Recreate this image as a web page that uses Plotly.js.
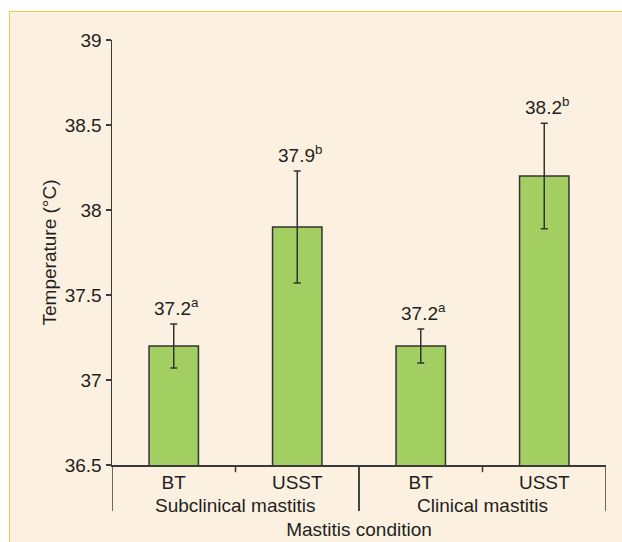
<!DOCTYPE html>
<html>
<head>
<meta charset="utf-8">
<script src="https://cdn.plot.ly/plotly-3.0.1.min.js"></script>
<style>
  html, body { margin: 0; padding: 0; background: #ffffff; width: 622px; height: 542px; overflow: hidden; }
  #frame { position: absolute; left: 9px; top: 11px; width: 613px; height: 531px;
           border-top: 1.5px solid #f6c745; border-left: 1.5px solid #f6c745; box-sizing: border-box; }
  #chart { position: absolute; left: 10px; top: 12px; width: 612px; height: 530px; }
</style>
</head>
<body>
<div id="frame"></div>
<div id="chart"></div>
<script>
// ---- data ----
const treatments = ["BT", "USST", "BT", "USST"];
const groups = ["Subclinical mastitis", "Subclinical mastitis", "Clinical mastitis", "Clinical mastitis"];
const temperatures = [37.2, 37.9, 37.2, 38.2];
const errors = [0.13, 0.33, 0.10, 0.31];
const letters = ["a", "b", "a", "b"];
const yTicks = [36.5, 37, 37.5, 38, 38.5, 39];

const ink = "#231f20";
const fontFam = "Liberation Sans, Arial, sans-serif";
const xs = treatments.map((_, i) => i);

const trace = {
  type: "bar",
  x: xs,
  y: temperatures,
  width: 0.4,
  marker: { color: "#a3cf62", line: { color: "#333333", width: 1.5 } },
  error_y: { type: "data", array: errors, visible: true, color: "#333333", thickness: 1.5, width: 3.5 },
  hoverinfo: "none"
};

// value labels above error bars
const annotations = temperatures.map((v, i) => ({
  x: i, y: v + errors[i], xref: "x", yref: "y",
  text: v.toFixed(1) + "<sup>" + letters[i] + "</sup>",
  showarrow: false, yanchor: "bottom", yshift: 3, xshift: 3,
  font: { family: fontFam, size: 19, color: ink }
}));

// group labels
const uniqueGroups = [...new Set(groups)];
uniqueGroups.forEach(g => {
  const idx = xs.filter(i => groups[i] === g);
  const center = idx.reduce((a, b) => a + b, 0) / idx.length;
  annotations.push({
    x: center, y: 0, xref: "x", yref: "paper", yanchor: "top", yshift: -28,
    text: g, showarrow: false, font: { family: fontFam, size: 19, color: ink }
  });
});

// dividers and boundary ticks
const shapes = [];
const lineStyle = { color: "#3a3a3a", width: 1.5 };
uniqueGroups.forEach((g, k) => {
  const idx = xs.filter(i => groups[i] === g);
  const lo = Math.min(...idx) - 0.5, hi = Math.max(...idx) + 0.5;
  [lo, hi].forEach(b => shapes.push({ type: "line", xref: "x", yref: "paper", x0: b, x1: b, y0: 0, y1: -0.108, line: lineStyle }));
  for (let j = Math.min(...idx); j < Math.max(...idx); j++) {
    shapes.push({ type: "line", xref: "x", yref: "paper", x0: j + 0.5, x1: j + 0.5, y0: 0, y1: -0.017, line: lineStyle });
  }
});

const layout = {
  width: 612, height: 530,
  margin: { l: 102, r: 16, t: 28, b: 77 },
  paper_bgcolor: "#fcf1e1",
  plot_bgcolor: "rgba(0,0,0,0)",
  showlegend: false,
  font: { family: fontFam, size: 19, color: ink },
  xaxis: {
    range: [-0.5, treatments.length - 0.5],
    tickvals: xs, ticktext: treatments,
    showline: true, linecolor: "#3a3a3a", linewidth: 1.5,
    ticks: "", showgrid: false, zeroline: false,
    tickfont: { family: fontFam, size: 19, color: ink },
    title: { text: "Mastitis condition", font: { family: fontFam, size: 19, color: ink }, standoff: 30 },
    automargin: false
  },
  yaxis: {
    range: [36.5, 39],
    tickvals: yTicks, ticktext: yTicks.map(String),
    showline: true, linecolor: "#3a3a3a", linewidth: 1.5,
    ticks: "outside", ticklen: 5, tickwidth: 1.5, tickcolor: "#3a3a3a",
    showgrid: false, zeroline: false,
    tickfont: { family: fontFam, size: 19, color: ink },
    title: { text: "Temperature (°C)", font: { family: fontFam, size: 19, color: ink }, standoff: 3 },
    automargin: false
  },
  bargap: 0.6,
  annotations: annotations,
  shapes: shapes
};

Plotly.newPlot("chart", [trace], layout, { staticPlot: true, displayModeBar: false });
</script>
</body>
</html>
